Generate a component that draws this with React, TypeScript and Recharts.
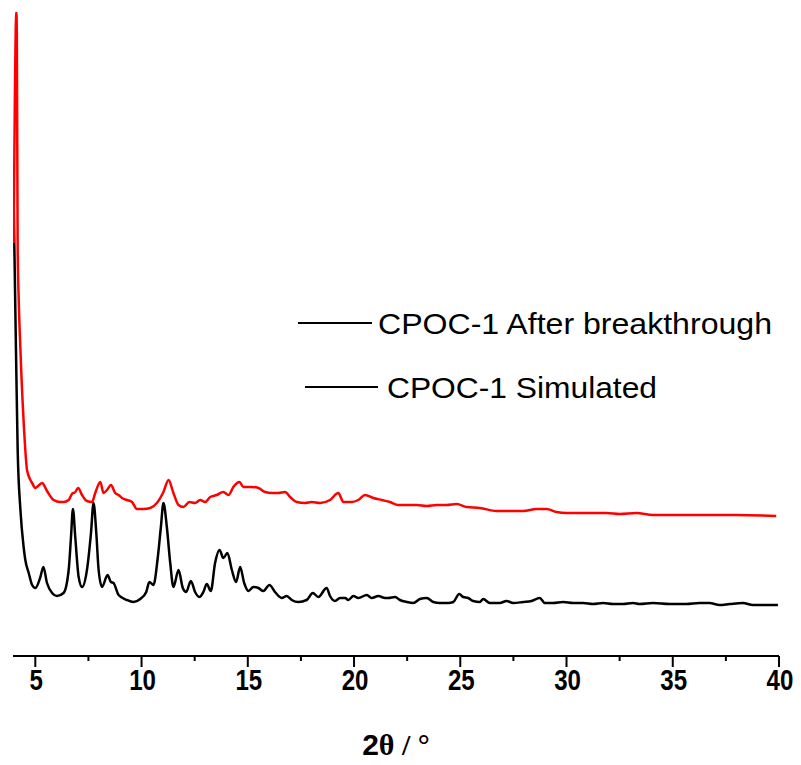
import React from 'react';
import { LineChart, Line, XAxis, YAxis } from 'recharts';

// 2θ positions and intensities (a.u.)
const SIM_2THETA = [
    3.98, 4.09, 4.17, 4.30, 4.45, 4.53, 4.69, 4.85, 5.0, 5.24, 5.38, 5.55, 5.79, 6.02, 6.33, 6.57, 6.68, 6.77, 6.88, 7.04,
    7.20, 7.43, 7.62, 7.74, 7.87, 7.98, 8.14, 8.40, 8.56, 8.68, 8.92, 9.31, 9.62, 9.94, 10.22, 10.37, 10.56, 10.75, 10.91, 11.03,
    11.19, 11.35, 11.50, 11.74, 11.94, 12.10, 12.32, 12.52, 12.72, 12.91, 13.07, 13.26, 13.46, 13.67, 13.85, 14.04, 14.25, 14.45, 14.64, 14.83,
    15.03, 15.26, 15.50, 15.73, 16.02, 16.28, 16.60, 16.83, 17.07, 17.38, 17.77, 18.06, 18.32, 18.71, 18.87, 19.10, 19.34, 19.58, 19.73, 19.97,
    20.20, 20.60, 20.83, 21.14, 21.46, 21.61, 21.93, 22.16, 22.48, 22.79, 23.10, 23.42, 23.73, 24.04, 24.43, 24.67, 24.95, 25.14, 25.37, 25.61,
    25.92, 26.08, 26.39, 26.86, 27.18, 27.49, 27.96, 28.35, 28.74, 28.98, 29.37, 29.84, 30.31, 30.78, 31.25, 31.72, 32.19, 32.66, 33.13, 33.44,
    34.07, 34.85, 35.64, 36.26, 36.73, 37.20, 37.68, 38.30, 38.77, 39.40, 39.95,
];
const SIM_I = [
    456, 306, 206, 146, 109, 96, 83, 71, 68, 79, 89, 73, 63, 60, 63, 86, 119, 147, 119, 79,
    69, 86, 123, 153, 123, 86, 69, 81, 74, 73, 61, 56, 54, 57, 64, 74, 71, 96, 129, 153,
    129, 93, 69, 86, 68, 64, 75, 64, 59, 64, 72, 65, 93, 106, 98, 103, 86, 74, 89, 73,
    65, 69, 68, 65, 71, 64, 58, 60, 56, 54, 56, 63, 59, 68, 60, 55, 58, 58, 56, 60,
    58, 61, 58, 60, 58, 58, 59, 56, 54, 53, 57, 58, 54, 53, 53, 54, 62, 59, 58, 55,
    54, 57, 53, 53, 55, 53, 54, 55, 58, 53, 53, 54, 53, 53, 52, 53, 52, 52, 53, 52,
    53, 52, 52, 53, 53, 51, 52, 53, 51, 51, 51,
];

const EXP_2THETA = [
    3.98, 4.11, 4.13, 4.17, 4.22, 4.30, 4.48, 4.61, 4.77, 4.85, 5.0, 5.08, 5.32, 5.55, 5.86, 6.18, 6.33, 6.57, 6.77, 6.83,
    7.02, 7.20, 7.43, 7.67, 7.82, 8.06, 8.21, 8.37, 8.56, 8.76, 8.92, 9.08, 9.31, 9.55, 9.78, 10.09, 10.41, 10.72, 11.03, 11.27,
    11.50, 11.74, 11.97, 12.25, 12.52, 12.76, 12.99, 13.23, 13.54, 13.85, 14.09, 14.32, 14.61, 14.79, 15.19, 15.50, 15.81, 16.13, 16.44, 16.75,
    16.99, 17.30, 17.69, 18.01, 18.40, 18.87, 19.26, 19.50, 19.89, 20.20, 20.52, 20.91, 21.30, 21.69, 22.08, 22.48, 22.95, 23.42, 23.89, 24.36,
    24.83, 25.30, 25.92, 26.71, 27.33, 27.96, 28.59, 29.06, 29.53, 30.00, 30.62, 31.25, 31.88, 32.51, 33.29, 34.07, 34.85, 36.42, 37.99, 39.87,
];
const EXP_I = [
    413, 644, 623, 406, 356, 306, 223, 186, 176, 173, 168, 169, 173, 165, 156, 154, 154, 156, 163, 163,
    168, 161, 155, 154, 163, 174, 163, 166, 171, 163, 161, 158, 156, 154, 147, 147, 148, 153, 164, 176,
    163, 151, 149, 154, 153, 156, 154, 159, 161, 164, 161, 169, 174, 169, 169, 168, 164, 163, 163, 164,
    159, 154, 153, 154, 153, 156, 163, 154, 154, 156, 161, 158, 156, 154, 151, 151, 151, 150, 151, 151,
    152, 149, 148, 145, 145, 145, 147, 147, 144, 143, 143, 143, 143, 142, 143, 141, 141, 141, 141, 140,
];

const X_TICKS = [5, 7.5, 10, 12.5, 15, 17.5, 20, 22.5, 25, 27.5, 30, 32.5, 35, 37.5, 40];
const LEGEND = ['CPOC-1 After breakthrough', 'CPOC-1 Simulated'];

const zip = (xs: number[], ys: number[]) =>
    xs.slice(0, Math.min(xs.length, ys.length)).map((x, i) => ({ x, y: ys[i] }));

const simData = zip(SIM_2THETA, SIM_I);
const expData = zip(EXP_2THETA, EXP_I);

const AxisTick = (props: any) => {
    const { x, y, payload } = props;
    const major = Number.isInteger(payload.value);
    return (
        <g>
            <line x1={x} x2={x} y1={y} y2={y + (major ? 11 : 5)} stroke="#000" strokeWidth={2} />
            {major && (
                <text
                    transform={`translate(${x + 1},${y + 34}) scale(0.86,1.05)`}
                    textAnchor="middle"
                    fontFamily="'Liberation Sans', Arial, sans-serif"
                    fontWeight="bold"
                    fontSize={28}
                    fill="#000"
                >
                    {payload.value}
                </text>
            )}
        </g>
    );
};

const AxisTitle = (props: any) => {
    const vb = props.viewBox || {};
    const cx = (vb.x ?? 0) + (vb.width ?? 0) / 2;
    return (
        <text x={cx} y={755} textAnchor="middle" fontSize={30} fontWeight="bold" fill="#000">
            <tspan fontFamily="'Liberation Sans', Arial, sans-serif">2</tspan>
            <tspan fontFamily="'Liberation Serif', 'Times New Roman', serif">θ / °</tspan>
        </text>
    );
};

export default function App() {
    return (
        <div style={{ position: 'absolute', left: 0, top: 0, width: 801, height: 765, background: '#fff' }}>
            <LineChart width={801} height={765} margin={{ top: 12, right: 22, left: 13, bottom: 9 }}>
                <XAxis
                    dataKey="x"
                    type="number"
                    domain={[3.95, 40]}
                    ticks={X_TICKS}
                    interval={0}
                    allowDataOverflow
                    height={100}
                    tickSize={0}
                    tickMargin={0}
                    tickLine={false}
                    axisLine={{ stroke: '#000', strokeWidth: 2 }}
                    tick={<AxisTick />}
                    label={{ content: <AxisTitle /> }}
                />
                <YAxis hide domain={[0, 644]} allowDataOverflow />
                <Line data={simData} dataKey="y" type="monotone" stroke="#000" strokeWidth={2.5} dot={false} isAnimationActive={false} />
                <Line data={expData} dataKey="y" type="monotone" stroke="#ff0000" strokeWidth={2.5} dot={false} isAnimationActive={false} />
            </LineChart>
            <svg width={801} height={765} style={{ position: 'absolute', left: 0, top: 0, pointerEvents: 'none' }}>
                <line x1={298} x2={372} y1={323} y2={323} stroke="#000" strokeWidth={2} />
                <text x={378} y={334} fontFamily="'Liberation Sans', Arial, sans-serif" fontSize={30} textLength={394} lengthAdjust="spacingAndGlyphs" fill="#000">
                    {LEGEND[0]}
                </text>
                <line x1={305} x2={378} y1={387} y2={387} stroke="#000" strokeWidth={2} />
                <text x={387} y={398} fontFamily="'Liberation Sans', Arial, sans-serif" fontSize={30} textLength={270} lengthAdjust="spacingAndGlyphs" fill="#000">
                    {LEGEND[1]}
                </text>
            </svg>
        </div>
    );
}
